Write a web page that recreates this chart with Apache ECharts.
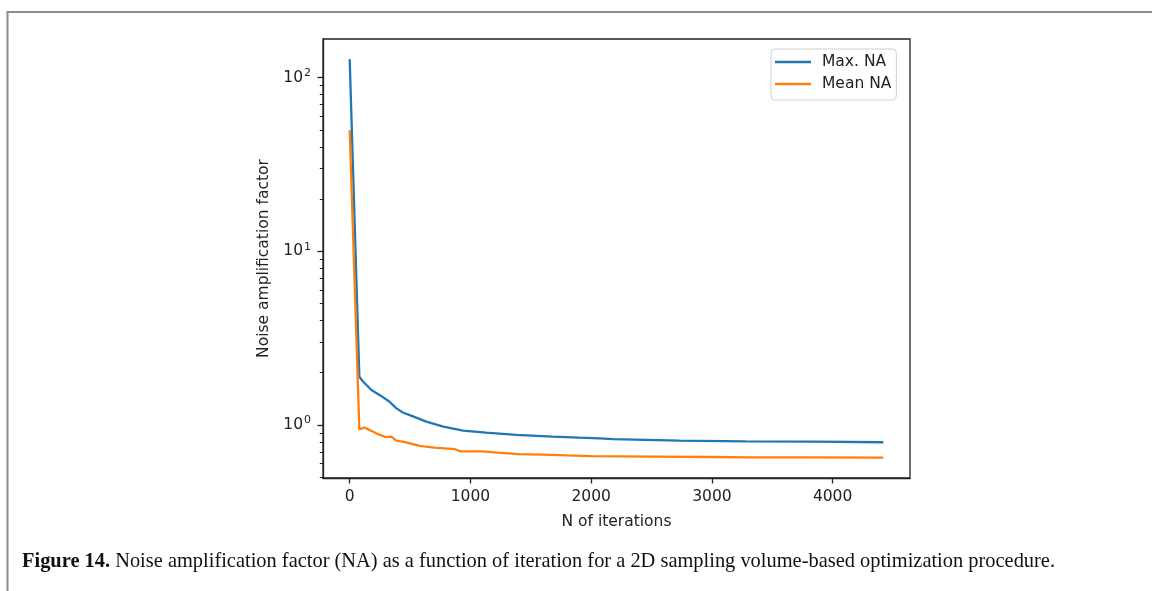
<!DOCTYPE html>
<html><head><meta charset="utf-8">
<script src="https://cdn.jsdelivr.net/npm/echarts@6/dist/echarts.min.js"></script>
<style>html,body{margin:0;padding:0;background:#fff}#c{width:1152px;height:591px}</style>
</head><body><div id="c"></div>
<script>
// ---- data ----
const seriesNames = ['Max. NA', 'Mean NA'];
const iterMax = [0, 80, 110, 180, 260, 330, 385, 440, 525, 635, 775, 940, 1130, 1380, 1680, 1900, 2070, 2180, 2730, 3280, 3840, 4420];
const valMax  = [127.7, 1.90, 1.78, 1.59, 1.47, 1.36, 1.25, 1.18, 1.12, 1.045, 0.978, 0.927, 0.903, 0.876, 0.857, 0.845, 0.838, 0.828, 0.812, 0.805, 0.801, 0.795];
const iterMean = [0, 80, 124, 220, 300, 345, 386, 450, 580, 700, 870, 920, 1100, 1200, 1400, 1600, 1800, 2000, 2500, 3000, 3300, 3800, 4420];
const valMean  = [50, 0.945, 0.965, 0.895, 0.85, 0.857, 0.812, 0.80, 0.757, 0.74, 0.725, 0.705, 0.705, 0.695, 0.68, 0.675, 0.668, 0.662, 0.658, 0.654, 0.650, 0.650, 0.648];
const xTicks = [0, 1000, 2000, 3000, 4000];
const yTicks = [1, 10, 100];
const yMinorTicks = [0.5, 0.6, 0.7, 0.8, 0.9, 2, 3, 4, 5, 6, 7, 8, 9, 20, 30, 40, 50, 60, 70, 80, 90];
const xName = 'N of iterations';
const yName = 'Noise amplification factor';
const captionBold = 'Figure 14.';
const captionRest = ' Noise amplification factor (NA) as a function of iteration for a 2D sampling volume-based optimization procedure.';

// ---- chart ----
const textColor = '#222';
const axisFont = 'DejaVu Sans';
const chart = echarts.init(document.getElementById('c'), null, {renderer: 'canvas'});

// caption horizontal compression to match the condensed serif of the reference
const capSize = 22;
const ctx = document.createElement('canvas').getContext('2d');
ctx.font = 'bold ' + capSize + 'px "Liberation Serif"';
const wB = ctx.measureText(captionBold).width;
ctx.font = capSize + 'px "Liberation Serif"';
const wR = ctx.measureText(captionRest).width;
const capScale = 1033 / (wB + wR);

const option = {
  animation: false,
  backgroundColor: '#fff',
  grid: {left: 323, top: 39, right: 242, bottom: 113, show: true, borderColor: '#222', borderWidth: 1.3, backgroundColor: 'transparent'},
  legend: {
    left: 771, top: 49, orient: 'vertical', icon: 'rect', itemWidth: 36, itemHeight: 2.5, itemGap: 4,
    padding: [4, 5, 7, 4], backgroundColor: '#fff', borderColor: '#d0d0d0', borderWidth: 1, borderRadius: 4,
    textStyle: {fontFamily: axisFont, fontSize: 15.5, color: textColor, lineHeight: 18, padding: [0, 0, 0, 6]},
    data: seriesNames
  },
  xAxis: {
    type: 'value', min: -221, max: 4641,
    axisLine: {show: true, onZero: false, lineStyle: {color: '#222', width: 1.3}},
    axisTick: {show: true, customValues: xTicks, length: 5.5, lineStyle: {color: '#222', width: 1.3}},
    axisLabel: {customValues: xTicks, margin: 11, fontFamily: axisFont, fontSize: 15.5, color: textColor,
      formatter: v => String(v)},
    splitLine: {show: false},
    name: xName, nameLocation: 'middle', nameGap: 36,
    nameTextStyle: {fontFamily: axisFont, fontSize: 15.5, color: textColor}
  },
  yAxis: [{
    type: 'log', logBase: 10, min: 0.495, max: 167,
    axisLine: {show: true, onZero: false, lineStyle: {color: '#222', width: 1.3}},
    axisTick: {show: true, customValues: yTicks, length: 5.5, lineStyle: {color: '#222', width: 1.3}},
    axisLabel: {customValues: yTicks, margin: 12, fontFamily: axisFont, fontSize: 15.5, color: textColor,
      formatter: v => '{b|10}{s|' + Math.round(Math.log10(v)) + '}',
      rich: {
        b: {fontFamily: axisFont, fontSize: 15.5, color: textColor},
        s: {fontFamily: axisFont, fontSize: 11, color: textColor, padding: [0, 0, 9, 1]}
      }},
    splitLine: {show: false},
    name: yName, nameLocation: 'middle', nameGap: 45, nameRotate: 90,
    nameTextStyle: {fontFamily: axisFont, fontSize: 15.5, color: textColor}
  }, {
    type: 'log', logBase: 10, min: 0.495, max: 167, position: 'left',
    axisLine: {show: false, onZero: false},
    axisTick: {show: true, customValues: yMinorTicks, length: 3.2, lineStyle: {color: '#222', width: 1}},
    axisLabel: {show: false},
    splitLine: {show: false}
  }],
  series: [{
    name: seriesNames[0], type: 'line', showSymbol: false, symbol: 'none', yAxisIndex: 0,
    color: '#1f77b4', lineStyle: {width: 2.3, color: '#1f77b4'},
    data: iterMax.map((x, i) => [x, valMax[i]])
  }, {
    name: seriesNames[1], type: 'line', showSymbol: false, symbol: 'none', yAxisIndex: 0,
    color: '#ff7f0e', lineStyle: {width: 2.3, color: '#ff7f0e'},
    data: iterMean.map((x, i) => [x, valMean[i]])
  }],
  graphic: [
    {type: 'line', shape: {x1: 7, y1: 12, x2: 1152, y2: 12}, style: {stroke: '#8c8c8c', lineWidth: 2}},
    {type: 'line', shape: {x1: 7.5, y1: 11, x2: 7.5, y2: 591}, style: {stroke: '#8c8c8c', lineWidth: 2}},
    {type: 'text', x: 22, y: 561, scaleX: capScale,
      style: {text: '{b|' + captionBold + '}' + captionRest, font: capSize + 'px "Liberation Serif"', fill: '#111',
        verticalAlign: 'middle', rich: {b: {fontWeight: 'bold', fontSize: capSize, fontFamily: 'Liberation Serif', fill: '#111'}}}}
  ]
};
chart.setOption(option);
</script>
</body></html>
